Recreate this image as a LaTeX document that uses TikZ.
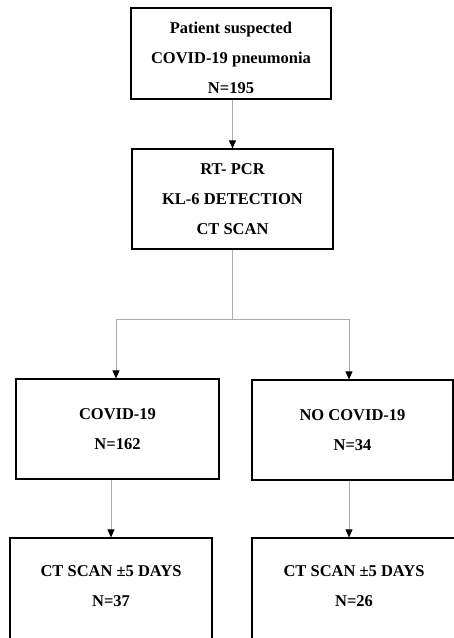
\documentclass[tikz,border=0pt]{standalone}
\usepackage{fontspec}
\setmainfont{Liberation Serif}
\usetikzlibrary{arrows.meta}
\begin{document}
\begin{tikzpicture}[x=1pt, y=-1pt,
    box/.style={draw, line width=1.2pt, align=center, minimum width=201pt, minimum height=100pt,
        inner sep=0pt, font=\fontsize{16.5}{30}\selectfont\bfseries},
    link/.style={draw=gray!65, line width=0.9pt},
    arr/.style={link, -{Triangle[length=8pt, width=7pt, black]}}]
    \useasboundingbox (0,0) rectangle (454,638);
    % Patients
    \node[box, minimum width=200pt, minimum height=91pt] (suspect) at (231,53.5)
        {\rule{0pt}{20pt}Patient suspected\\COVID-19 pneumonia\\N=195};
    % Tests
    \node[box] (tests) at (232.5,199) {RT- PCR\\KL-6 DETECTION\\CT SCAN};
    % Groupes
    \node[box, minimum width=203pt] (covid) at (117.5,429) {COVID-19\\N=162};
    \node[box] (nocovid) at (352.5,430) {NO COVID-19\\N=34};
    % Suivi
    \node[box, minimum width=202pt, minimum height=102pt] (ctcovid) at (111,589)
        {CT SCAN ±5 DAYS\\N=37\rule[-6pt]{0pt}{0pt}};
    \node[box, minimum width=204pt, minimum height=102pt] (ctnocovid) at (354,589)
        {CT SCAN ±5 DAYS\\N=26\rule[-6pt]{0pt}{0pt}};
    % Liens
    \coordinate (split) at (232.5,319);
    \draw[arr] (suspect.south -| tests.north) -- (tests.north);
    \draw[link] (tests.south) -- (split);
    \draw[arr] (split) -| ([xshift=-1.5pt]covid.north);
    \draw[arr] (split) -| ([xshift=-3.5pt]nocovid.north);
    \draw[arr] (covid.south -| ctcovid.north) -- (ctcovid.north);
    \draw[arr] ([xshift=-3.5pt]nocovid.south) -- ([xshift=-3.5pt]nocovid.south |- ctnocovid.north);
\end{tikzpicture}
\end{document}
